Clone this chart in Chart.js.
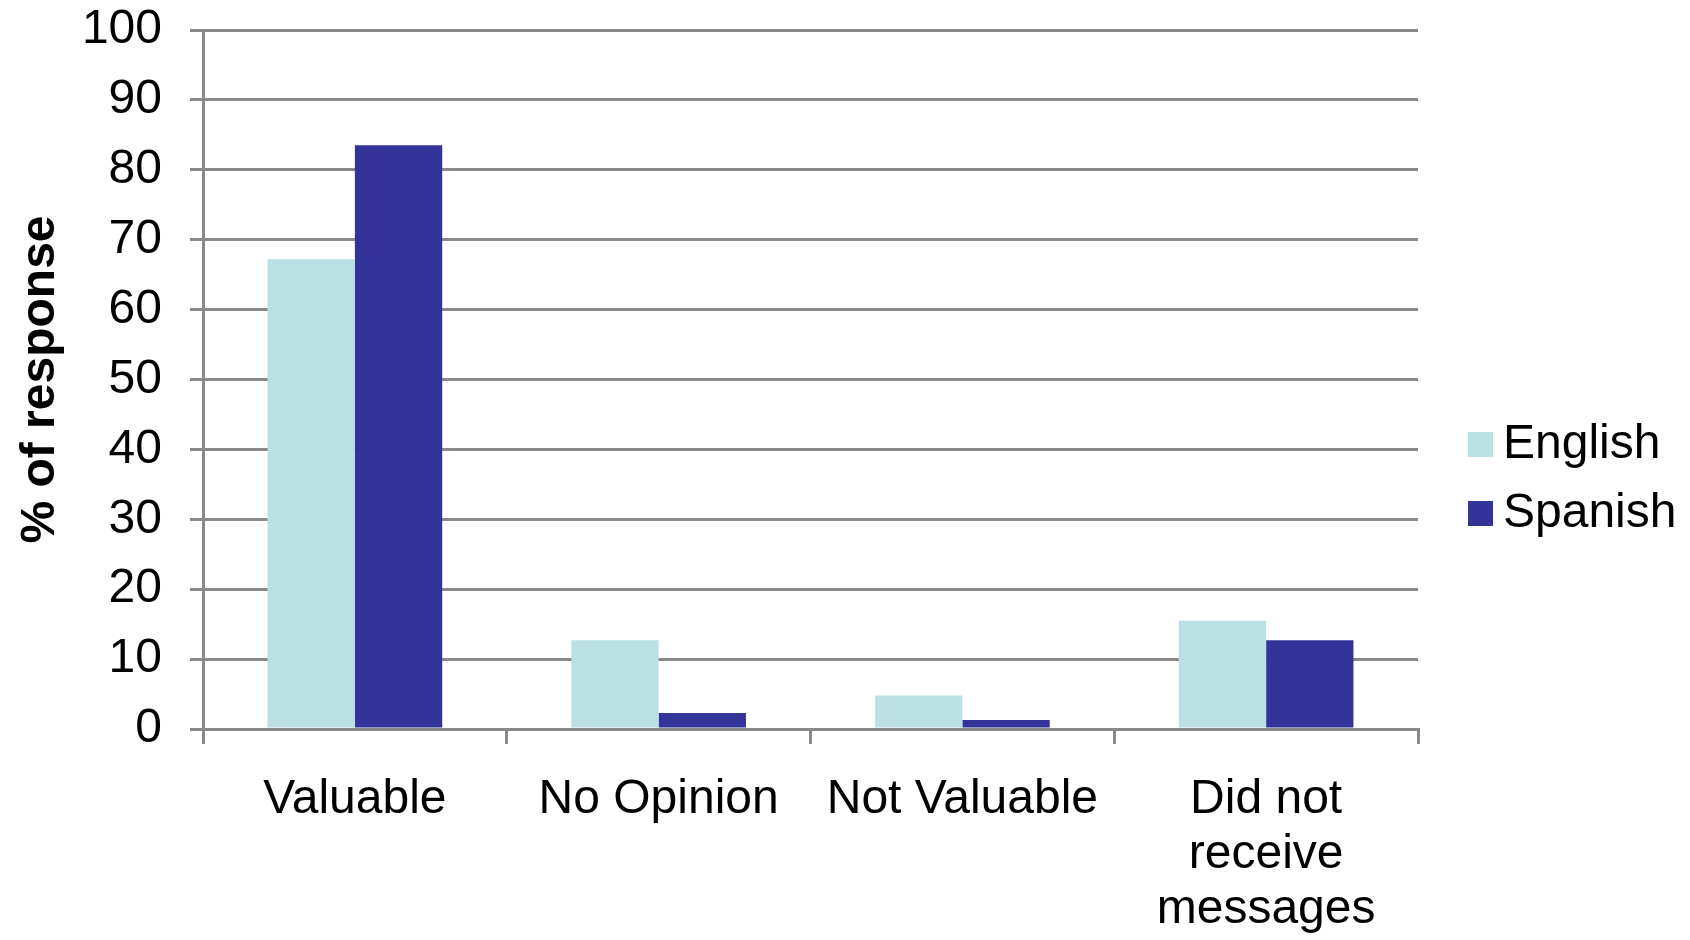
<!DOCTYPE html>
<html>
<head>
<meta charset="utf-8">
<script src="https://cdn.jsdelivr.net/npm/chart.js@4.4.1/dist/chart.umd.min.js"></script>
<style>
  html, body { margin: 0; padding: 0; background: #fff; }
  #wrap { width: 1690px; height: 940px; position: relative; }
</style>
</head>
<body>
<div id="wrap"><canvas id="myChart"></canvas></div>
<script>
// data
const categories = ['Valuable', 'No Opinion', 'Not Valuable', ['Did not', 'receive', 'messages']];
const englishValues = [67.2, 12.7, 4.8, 15.5];
const spanishValues = [83.5, 2.3, 1.3, 12.7];
const seriesNames = ['English', 'Spanish'];
const yTicks = { min: 0, max: 100, step: 10 };

const FONT = '"Liberation Sans", Arial, sans-serif';
const gridColor = '#8a8a8a';

// simple legend drawn to the right of the plot, like the original
const sideLegend = {
  id: 'sideLegend',
  afterDraw(chart) {
    const ctx = chart.ctx;
    const x = 1468;
    const startY = 444;
    const rowGap = 69;
    ctx.save();
    ctx.font = '48px ' + FONT;
    ctx.textBaseline = 'middle';
    ctx.textAlign = 'left';
    chart.data.datasets.forEach((ds, i) => {
      const y = startY + i * rowGap;
      ctx.fillStyle = ds.backgroundColor;
      ctx.fillRect(x, y - 12, 25, 25);
      ctx.fillStyle = '#000';
      ctx.fillText(ds.label, x + 35, y + 1);
    });
    ctx.restore();
  }
};

const ctx = document.getElementById('myChart').getContext('2d');
new Chart(ctx, {
  type: 'bar',
  data: {
    labels: categories,
    datasets: [
      { label: seriesNames[0], data: englishValues, backgroundColor: '#bbe0e3' },
      { label: seriesNames[1], data: spanishValues, backgroundColor: '#333399' }
    ]
  },
  options: {
    responsive: true,
    maintainAspectRatio: false,
    animation: false,
    layout: { padding: { left: 0, right: 272, top: 0, bottom: 0 } },
    datasets: {
      bar: { categoryPercentage: 0.575, barPercentage: 1.0, borderWidth: 0 }
    },
    plugins: {
      legend: { display: false },
      tooltip: { enabled: false }
    },
    scales: {
      x: {
        afterFit(scale) { scale.height = 211; },
        grid: {
          offset: true,
          drawOnChartArea: false,
          drawTicks: true,
          tickLength: 15,
          color: gridColor,
          lineWidth: 3
        },
        border: { color: gridColor, width: 3 },
        ticks: {
          color: '#000',
          padding: 28,
          maxRotation: 0,
          autoSkip: false,
          font: { family: FONT, size: 48, lineHeight: 1.15 }
        }
      },
      y: {
        min: yTicks.min,
        max: yTicks.max,
        afterFit(scale) {
          scale.width = 203;
          scale.paddingTop = 30;
          scale.paddingBottom = 0;
        },
        ticks: {
          stepSize: yTicks.step,
          color: '#000',
          padding: 28,
          font: { family: FONT, size: 48 }
        },
        grid: { color: gridColor, lineWidth: 3, tickLength: 13 },
        border: { color: gridColor, width: 3 },
        title: {
          display: true,
          text: '% of response',
          color: '#000',
          padding: { top: 12, bottom: 0 },
          font: { family: FONT, size: 48, weight: 'bold', lineHeight: 1.2 }
        }
      }
    }
  },
  plugins: [sideLegend]
});
</script>
</body>
</html>
